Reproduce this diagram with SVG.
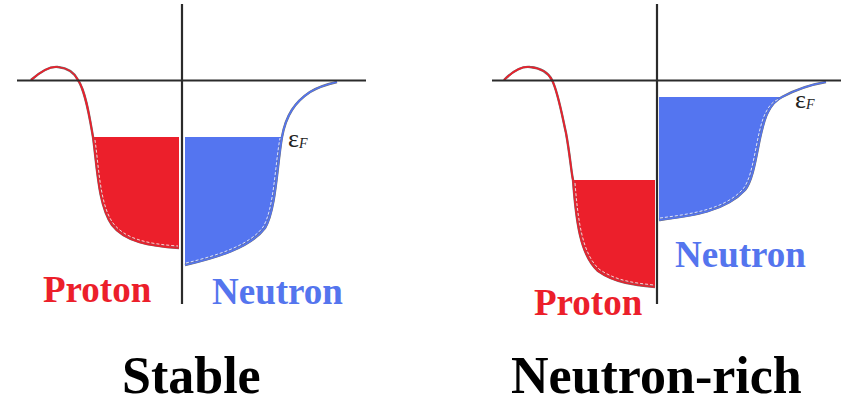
<svg xmlns="http://www.w3.org/2000/svg" width="848" height="403" viewBox="0 0 848 403">
<style>
.axis{stroke:#2b2b2b;stroke-width:2.2;fill:none}
.edge{stroke:#707070;stroke-width:2.4;fill:none}
.red{stroke:#ec1f2b;stroke-width:1.7;fill:none}
.blue{stroke:#5475f0;stroke-width:1.7;fill:none}
.dash{stroke:#ffffff;stroke-width:0.8;stroke-dasharray:3 2;fill:none}
.pf{fill:#ec1f2b}
.nf{fill:#5475f0}
.lbl{font-family:"Liberation Serif","Times New Roman",serif;font-weight:bold;font-size:37px}
.title{font-family:"Liberation Serif","Times New Roman",serif;font-weight:bold;font-size:52px;fill:#000}
.ef{font-family:"Liberation Serif","Times New Roman",serif;font-size:26px;fill:#222}
</style>
<rect width="848" height="403" fill="#fff"/>

<g id="stable">
  <g id="stable-proton">
    <path class="pf" d="M93,137 C97,165 98,205 112,225 C125,242 150,246 179,248 L179,137 Z"/>
    <path class="edge" d="M31,80 C40,72 50,66 58,67 C68,68 74,72 78,80 C86,92 90,120 93,137 C97,165 98,205 112,225 C125,242 150,246 179,248"/>
    <path class="red" d="M31,80 C40,72 50,66 58,67 C68,68 74,72 78,80 C86,92 90,120 93,137 C97,165 98,205 112,225 C125,242 150,246 179,248"/>
    <path class="dash" d="M95,140 C99,168 100,205 113,223 C126,240 150,244 178,246"/>
    <text class="lbl" x="43" y="302" fill="#ec1f2b">Proton</text>
  </g>
  <g id="stable-neutron">
    <path class="nf" d="M185,137 L282,137 C277,165 276,210 265,228 C250,248 215,258 185,265 Z"/>
    <path class="edge" d="M185,265 C215,258 250,248 265,228 C276,210 277,165 282,137 C286,115 295,102 310,92 C320,86 328,84 337,82"/>
    <path class="blue" d="M185,265 C215,258 250,248 265,228 C276,210 277,165 282,137 C286,115 295,102 310,92 C320,86 328,84 337,82"/>
    <path class="dash" d="M186,263 C215,256 249,246 263,227 C274,209 275,165 280,138"/>
    <text class="lbl" x="212" y="304" fill="#5475ee">Neutron</text>
    <text class="ef" x="288" y="147">ε<tspan font-style="italic" font-size="14" dy="1">F</tspan></text>
  </g>
  <g id="stable-axes">
    <line class="axis" x1="17" y1="80.5" x2="366" y2="80.5"/>
    <line class="axis" x1="182" y1="4" x2="182" y2="304"/>
  </g>
  <text class="title" x="122" y="393">Stable</text>
</g>

<g id="neutron-rich">
  <g id="rich-proton">
    <path class="pf" d="M573,180 C576,220 580,255 598,271 C615,283 635,285 655,287 L655,180 Z"/>
    <path class="edge" d="M504,80 C512,72 522,66 530,67 C540,68 548,72 552,80 C558,92 562,115 566,133 C570,155 571,170 573,180 C576,220 580,255 598,271 C615,283 635,285 655,287"/>
    <path class="red" d="M504,80 C512,72 522,66 530,67 C540,68 548,72 552,80 C558,92 562,115 566,133 C570,155 571,170 573,180 C576,220 580,255 598,271 C615,283 635,285 655,287"/>
    <path class="dash" d="M575,183 C578,220 582,253 599,269 C616,281 635,283 654,285"/>
    <text class="lbl" x="534" y="315" fill="#ec1f2b">Proton</text>
  </g>
  <g id="rich-neutron">
    <path class="nf" d="M659,97 L782,97 C778,99 773,102 768,112 C758,130 757,175 745,190 C725,212 690,216 659,220 Z"/>
    <path class="edge" d="M659,220 C690,216 725,212 745,190 C757,175 758,130 768,112 C773,102 778,99 782,97 C795,90 808,85 826,82"/>
    <path class="blue" d="M659,220 C690,216 725,212 745,190 C757,175 758,130 768,112 C773,102 778,99 782,97 C795,90 808,85 826,82"/>
    <path class="dash" d="M660,218 C690,214 724,210 743,189 C755,174 756,130 766,112 C770,104 774,101 779,99"/>
    <text class="lbl" x="675" y="267" fill="#5475ee">Neutron</text>
    <text class="ef" x="795" y="108">ε<tspan font-style="italic" font-size="14" dy="1">F</tspan></text>
  </g>
  <g id="rich-axes">
    <line class="axis" x1="492" y1="80.5" x2="841" y2="80.5"/>
    <line class="axis" x1="657" y1="4" x2="657" y2="304"/>
  </g>
  <text class="title" x="511" y="393">Neutron-rich</text>
</g>
</svg>
